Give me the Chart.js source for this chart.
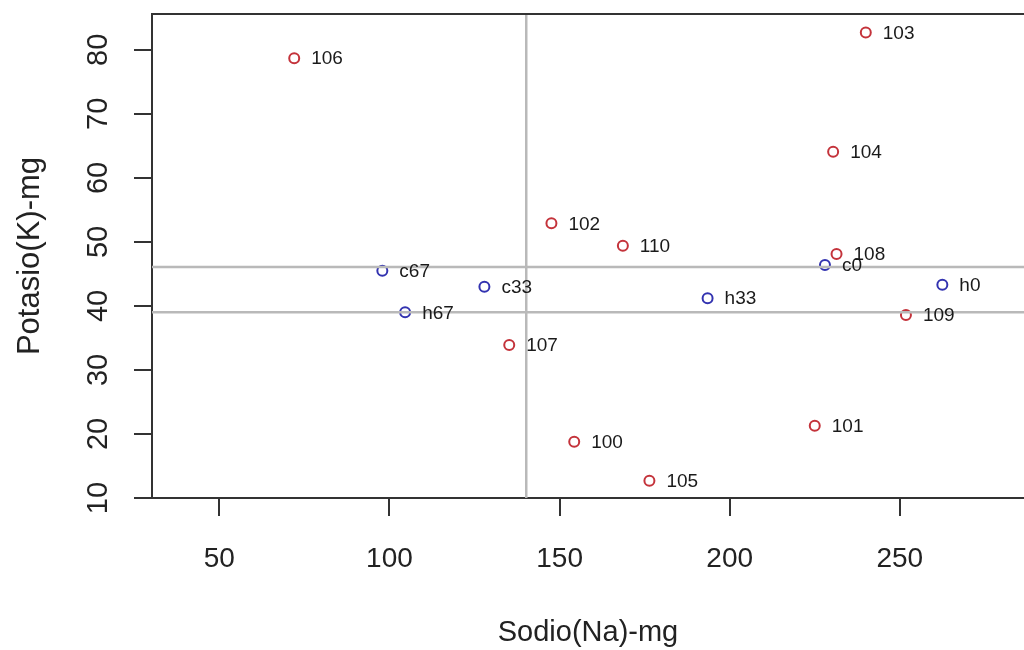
<!DOCTYPE html>
<html>
<head>
<meta charset="utf-8">
<script src="https://cdn.jsdelivr.net/npm/chart.js@4"></script>
<style>
  body { margin: 0; background: #fff; overflow: hidden; }
</style>
</head>
<body>
<canvas id="myChart" width="1024" height="650"></canvas>
<script>
// muestras (rojo)
let redLabels = ['100','101','102','103','104','105','106','107','108','109','110'];
let redNa = [154.3, 225.0, 147.6, 240.0, 230.4, 176.4, 72.0, 135.2, 231.4, 251.8, 168.6];
let redK  = [18.8, 21.3, 52.9, 82.7, 64.1, 12.7, 78.7, 33.9, 48.1, 38.6, 49.4];

// controles (azul)
let blueLabels = ['c0','c33','c67','h0','h33','h67'];
let blueNa = [228.0, 127.9, 97.9, 262.5, 193.5, 104.6];
let blueK  = [46.4, 43.0, 45.5, 43.3, 41.2, 39.0];

// lineas de referencia
let vLines = [140.2];
let hLines = [46.1, 39.0];

let xTicks = [50, 100, 150, 200, 250];
let yTicks = [10, 20, 30, 40, 50, 60, 70, 80];

function pts(xs, ys){
    return xs.map((x, i) => ({x: x, y: ys[i]}));
}

const textFont = '"Liberation Sans", Arial, sans-serif';

const boxAndLines = {
    id: 'boxAndLines',
    afterDatasetsDraw(chart){
        const ctx = chart.ctx;
        const a = chart.chartArea;
        const xs = chart.scales.x, ys = chart.scales.y;
        ctx.save();
        ctx.beginPath();
        ctx.rect(a.left, a.top, a.right - a.left, a.bottom - a.top);
        ctx.clip();
        ctx.strokeStyle = '#b9b9b9';
        ctx.lineWidth = 2.5;
        vLines.forEach(v => {
            const px = xs.getPixelForValue(v);
            ctx.beginPath(); ctx.moveTo(px, a.top); ctx.lineTo(px, a.bottom); ctx.stroke();
        });
        hLines.forEach(v => {
            const py = ys.getPixelForValue(v);
            ctx.beginPath(); ctx.moveTo(a.left, py); ctx.lineTo(a.right, py); ctx.stroke();
        });
        ctx.restore();

        // etiquetas de los puntos
        ctx.save();
        ctx.font = '19px ' + textFont;
        ctx.fillStyle = '#1a1a1a';
        ctx.textAlign = 'left';
        ctx.textBaseline = 'middle';
        chart.data.datasets.forEach((ds, di) => {
            chart.getDatasetMeta(di).data.forEach((el, i) => {
                ctx.fillText(ds.pointNames[i], el.x + 17, el.y + 1);
            });
        });
        ctx.restore();

        // borde superior
        ctx.save();
        ctx.strokeStyle = '#333';
        ctx.lineWidth = 2;
        ctx.beginPath();
        ctx.moveTo(a.left - 1, a.top);
        ctx.lineTo(a.right, a.top);
        ctx.stroke();
        ctx.restore();

        // etiquetas del eje y, giradas como en R
        ctx.save();
        ctx.font = '29px ' + textFont;
        ctx.fillStyle = '#222';
        ctx.textAlign = 'center';
        ctx.textBaseline = 'middle';
        yTicks.forEach(v => {
            const py = ys.getPixelForValue(v);
            ctx.save();
            ctx.translate(99, py);
            ctx.rotate(-Math.PI / 2);
            ctx.fillText(String(v), 0, 0);
            ctx.restore();
        });
        ctx.restore();
    }
};

var ctx = document.getElementById("myChart").getContext("2d");
var myChart = new Chart(ctx, {
    type: 'scatter',
    data: {
        datasets: [
            {
                label: 'muestras',
                data: pts(redNa, redK),
                pointNames: redLabels,
                borderColor: '#c4333b',
                backgroundColor: 'rgba(0,0,0,0)',
                pointRadius: 5,
                pointBorderWidth: 2,
                pointHoverRadius: 5
            },
            {
                label: 'controles',
                data: pts(blueNa, blueK),
                pointNames: blueLabels,
                borderColor: '#3333b0',
                backgroundColor: 'rgba(0,0,0,0)',
                pointRadius: 5,
                pointBorderWidth: 2,
                pointHoverRadius: 5
            }
        ]
    },
    options: {
        responsive: false,
        animation: false,
        devicePixelRatio: 1,
        layout: { autoPadding: false, padding: { top: 14, right: 0, left: 0, bottom: 0 } },
        plugins: {
            legend: { display: false },
            tooltip: { enabled: false }
        },
        scales: {
            x: {
                type: 'linear',
                min: 30.2,
                max: 286.5,
                afterBuildTicks: s => { s.ticks = xTicks.map(v => ({value: v})); },
                afterFit: s => { s.height = 152; s.paddingLeft = 0; s.paddingRight = 0; },
                border: { display: true, color: '#333', width: 2 },
                grid: { drawOnChartArea: false, drawTicks: true, tickLength: 18, color: '#333', lineWidth: 2 },
                ticks: {
                    font: { family: textFont, size: 28 },
                    color: '#222',
                    padding: 26,
                    maxRotation: 0
                },
                title: {
                    display: true,
                    text: 'Sodio(Na)-mg',
                    font: { family: textFont, size: 29 },
                    color: '#222',
                    padding: { top: 0, bottom: 0 }
                }
            },
            y: {
                type: 'linear',
                min: 10,
                max: 85.6,
                afterBuildTicks: s => { s.ticks = yTicks.map(v => ({value: v})); },
                afterFit: s => { s.width = 152; s.paddingTop = 0; s.paddingBottom = 0; },
                border: { display: true, color: '#333', width: 2 },
                grid: { drawOnChartArea: false, drawTicks: true, tickLength: 18, color: '#333', lineWidth: 2 },
                ticks: { display: false },
                title: {
                    display: true,
                    text: 'Potasio(K)-mg',
                    font: { family: textFont, size: 31 },
                    color: '#222',
                    padding: { top: 12, bottom: 0 }
                }
            }
        }
    },
    plugins: [boxAndLines]
});
</script>
</body>
</html>
